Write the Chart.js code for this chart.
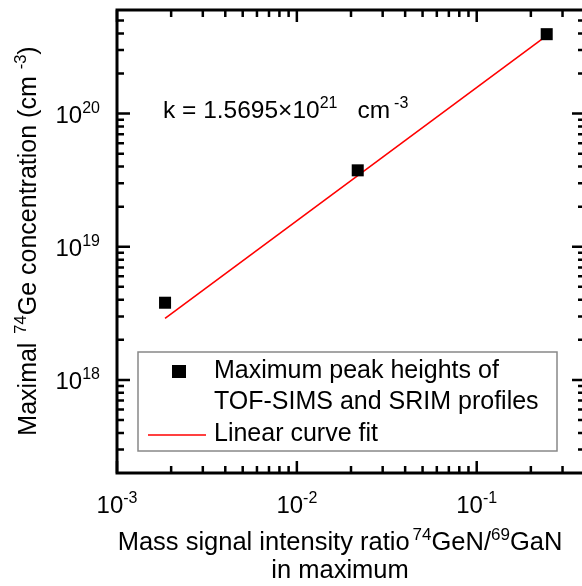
<!DOCTYPE html>
<html>
<head>
<meta charset="utf-8">
<script src="https://cdn.jsdelivr.net/npm/chart.js@4.4.0/dist/chart.umd.min.js"></script>
<style>
  html, body { margin: 0; padding: 0; background: #fff; overflow: hidden; }
  #wrap { width: 600px; height: 586px; }
</style>
</head>
<body>
<div id="wrap"><canvas id="chart" width="600" height="586"></canvas></div>
<script>
// measured points (ratio vs concentration)
const ratio = [1.85e-3, 0.0218, 0.245];
const conc = [3.8e18, 3.75e19, 3.95e20];
// linear fit, k = 1.5695e21 cm^-3, drawn between end points
const fitX = [1.85e-3, 0.245];
const fitY = [2.9e18, 3.85e20];

const xMajor = [1e-3, 1e-2, 1e-1];
const xMajorExp = ["-3", "-2", "-1"];
const yMajor = [1e18, 1e19, 1e20];
const yMajorExp = ["18", "19", "20"];

const FONT = "'Liberation Sans', Arial, Helvetica, sans-serif";

function minors(lo, hi) {
	const out = [];
	for (let d = Math.floor(Math.log10(lo)); d <= Math.ceil(Math.log10(hi)); d++) {
		for (let m = 2; m <= 9; m++) {
			const v = m * Math.pow(10, d);
			if (v > lo && v < hi) out.push(v);
		}
	}
	return out;
}

// parts: [[text, isSup, gapAfter], ...]
function richText(ctx, parts, x, y, align, size, supSize, raise) {
	const widths = parts.map(([t, s, g]) => {
		ctx.font = (s ? supSize : size) + "px " + FONT;
		return ctx.measureText(t).width + (g || 0);
	});
	const total = widths.reduce((a, b) => a + b, 0);
	let cx = x;
	if (align === "center") cx = x - total / 2;
	else if (align === "right") cx = x - total;
	ctx.textAlign = "left";
	ctx.textBaseline = "alphabetic";
	parts.forEach(([t, s], i) => {
		ctx.font = (s ? supSize : size) + "px " + FONT;
		ctx.fillText(t, cx, s ? y - raise : y);
		cx += widths[i];
	});
}

const framePlugin = {
	id: "frame",
	afterDatasetsDraw(chart) {
		const ctx = chart.ctx;
		const a = chart.chartArea;
		const xs = chart.scales.x;
		const ys = chart.scales.y;
		ctx.save();
		ctx.fillStyle = "#000";
		ctx.strokeStyle = "#000";

		// ticks, pointing inward on all four sides
		ctx.lineWidth = 2.5;
		const tickX = (v, len) => {
			const px = xs.getPixelForValue(v);
			ctx.beginPath();
			ctx.moveTo(px, a.bottom); ctx.lineTo(px, a.bottom - len);
			ctx.moveTo(px, a.top); ctx.lineTo(px, a.top + len);
			ctx.stroke();
		};
		const tickY = (v, len) => {
			const py = ys.getPixelForValue(v);
			ctx.beginPath();
			ctx.moveTo(a.left, py); ctx.lineTo(a.left + len, py);
			ctx.moveTo(a.right, py); ctx.lineTo(a.right - len, py);
			ctx.stroke();
		};
		xMajor.forEach(v => tickX(v, 12));
		minors(xs.min, xs.max).forEach(v => tickX(v, 7));
		yMajor.forEach(v => tickY(v, 13));
		minors(ys.min, ys.max).forEach(v => tickY(v, 7));

		// frame
		ctx.lineWidth = 3;
		ctx.strokeRect(a.left, a.top, a.right - a.left, a.bottom - a.top);

		// tick labels
		xMajor.forEach((v, i) => {
			richText(ctx, [["10", false], [xMajorExp[i], true]], xs.getPixelForValue(v), 513, "center", 24, 16, 10);
		});
		yMajor.forEach((v, i) => {
			richText(ctx, [["10", false], [yMajorExp[i], true]], a.left - 17, ys.getPixelForValue(v) + 9, "right", 24, 16, 10);
		});

		// axis titles
		richText(ctx, [["Mass signal intensity ratio", false, 3], ["74", true], ["GeN/", false], ["69", true], ["GaN", false]],
			340, 550, "center", 25.5, 17, 10);
		richText(ctx, [["in maximum", false]], 340, 578, "center", 25.5, 17, 10);

		ctx.save();
		ctx.translate(36, 241);
		ctx.rotate(-Math.PI / 2);
		richText(ctx, [["Maximal ", false, 2], ["74", true], ["Ge concentration (cm ", false], ["-3", true], [")", false]],
			0, 0, "center", 25, 16.5, 10);
		ctx.restore();

		// fit annotation
		richText(ctx, [["k = 1.5695\u00d710", false], ["21", true, 20], ["cm", false, 4], ["-3", true]], 163, 118, "left", 24.5, 16, 10);

		// legend
		ctx.fillStyle = "#fff";
		ctx.fillRect(138, 352, 419, 99);
		ctx.strokeStyle = "#888";
		ctx.lineWidth = 1.5;
		ctx.strokeRect(138, 352, 419, 99);
		const d0 = chart.data.datasets[0];
		const d1 = chart.data.datasets[1];
		ctx.fillStyle = d0.backgroundColor;
		ctx.fillRect(172, 365, 14, 13);
		ctx.strokeStyle = d1.borderColor;
		ctx.lineWidth = d1.borderWidth;
		ctx.beginPath();
		ctx.moveTo(148, 435); ctx.lineTo(206, 435);
		ctx.stroke();
		ctx.fillStyle = "#000";
		ctx.font = "25px " + FONT;
		ctx.textAlign = "left";
		ctx.textBaseline = "middle";
		ctx.fillText(d0.label[0], 214, 371);
		ctx.fillText(d0.label[1], 214, 402);
		ctx.fillText(d1.label, 214, 434);
		ctx.restore();
	}
};

new Chart(document.getElementById("chart"), {
	type: "scatter",
	data: {
		datasets: [
			{
				label: ["Maximum peak heights of", "TOF-SIMS and SRIM profiles"],
				data: ratio.map((r, i) => ({ x: r, y: conc[i] })),
				pointStyle: "rect",
				pointRadius: 8.5,
				backgroundColor: "#000",
				borderColor: "#000",
				borderWidth: 0,
				order: 1,
			},
			{
				label: "Linear curve fit",
				data: fitX.map((r, i) => ({ x: r, y: fitY[i] })),
				showLine: true,
				pointRadius: 0,
				borderColor: "#ff0000",
				borderWidth: 1.6,
				order: 2,
			},
		],
	},
	options: {
		responsive: false,
		animation: false,
		layout: { padding: { top: 10, right: 15, left: 0, bottom: 0 } },
		plugins: {
			legend: { display: false },
			tooltip: { enabled: false },
		},
		scales: {
			x: {
				type: "logarithmic",
				min: 1e-3,
				max: 0.4,
				ticks: { display: false },
				grid: { display: false },
				border: { display: false },
				afterFit: (s) => { s.height = 113; },
			},
			y: {
				type: "logarithmic",
				min: 2e17,
				max: 6e20,
				ticks: { display: false },
				grid: { display: false },
				border: { display: false },
				afterFit: (s) => { s.width = 117; },
			},
		},
	},
	plugins: [framePlugin],
});
</script>
</body>
</html>
